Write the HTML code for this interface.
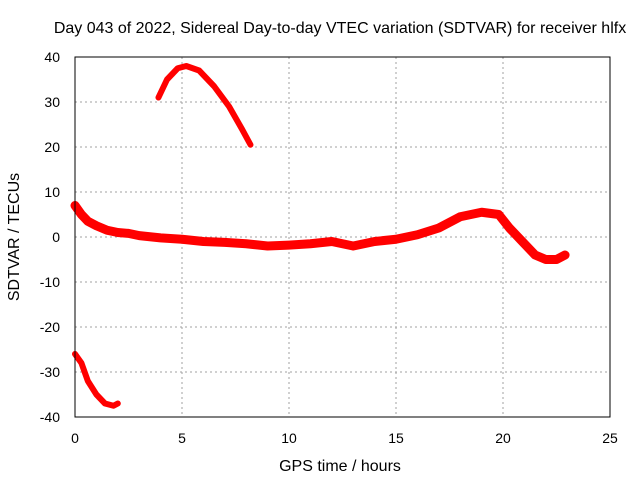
<!DOCTYPE html>
<html><head><meta charset="utf-8"><style>
body{margin:0;background:#fff;}
svg{display:block;font-family:"Liberation Sans",sans-serif;}
</style></head><body>
<svg id="chart" width="640" height="480">
<text x="340" y="33" font-size="16" text-anchor="middle">Day 043 of 2022, Sidereal Day-to-day VTEC variation (SDTVAR) for receiver hlfx</text>
<text x="340" y="471" font-size="16" text-anchor="middle">GPS time / hours</text>
<text transform="translate(19,237) rotate(-90)" font-size="16" text-anchor="middle">SDTVAR / TECUs</text>
<g id="grid"></g><g id="ticks"></g><g id="series"></g>
<rect x="75" y="57" width="535" height="360" fill="none" stroke="#000" stroke-width="1"/>
</svg>
<script>
const xTicks=[0,5,10,15,20,25];
const yTicks=[40,30,20,10,0,-10,-20,-30,-40];
const mainX=[0,0.3,0.6,1,1.5,2,2.5,3,4,5,6,7,8,9,10,11,12,13,13.5,14,15,16,17,18,19,19.8,20.3,21,21.5,22,22.5,22.9];
const mainY=[7,5,3.5,2.5,1.5,1,0.8,0.3,-0.2,-0.5,-1,-1.2,-1.5,-2,-1.8,-1.5,-1,-2,-1.5,-1,-0.5,0.5,2,4.5,5.5,5,2,-1.5,-4,-5,-5,-4];
const arcX=[3.9,4.3,4.8,5.2,5.8,6.5,7.2,7.8,8.2];
const arcY=[31,35,37.5,38,37,33.5,29,24,20.5];
const lowX=[0,0.3,0.6,1,1.4,1.8,2];
const lowY=[-26,-28,-32,-35,-37,-37.5,-37];
const sx=v=>75+v*535/25;
const sy=v=>237-v*4.5;
const NS="http://www.w3.org/2000/svg";
const grid=document.getElementById('grid'),ticks=document.getElementById('ticks'),ser=document.getElementById('series');
function mk(tag,at,parent){const e=document.createElementNS(NS,tag);for(const k in at)e.setAttribute(k,at[k]);parent.appendChild(e);return e;}
xTicks.forEach(t=>{
  if(t>0&&t<25){const g=mk('line',{x1:sx(t),x2:sx(t),y1:57,y2:417,stroke:'#a0a0a0','stroke-dasharray':'2,3'},grid);
  
  }
  const l=mk('text',{x:sx(t),y:443,'font-size':14,'text-anchor':'middle'},ticks);l.textContent=t;
  
  
});
yTicks.forEach(t=>{
  if(t>-40&&t<40){const g=mk('line',{x1:75,x2:610,y1:sy(t),y2:sy(t),stroke:'#a0a0a0','stroke-dasharray':'2,3'},grid);
  
  }
  const l=mk('text',{x:60,y:sy(t)+5,'font-size':14,'text-anchor':'end'},ticks);l.textContent=t;
  
  
});
function line(xs,ys,w,name){
  const p=mk('polyline',{points:xs.map((x,i)=>sx(x)+','+sy(ys[i])).join(' '),fill:'none',stroke:'#ff0000','stroke-width':w,'stroke-linejoin':'round','stroke-linecap':'round'},ser);
  
  
}
line(mainX,mainY,9,'main-series');
line(arcX,arcY,6,'upper-arc-series');
line(lowX,lowY,6,'lower-arc-series');
</script>
</body></html>
